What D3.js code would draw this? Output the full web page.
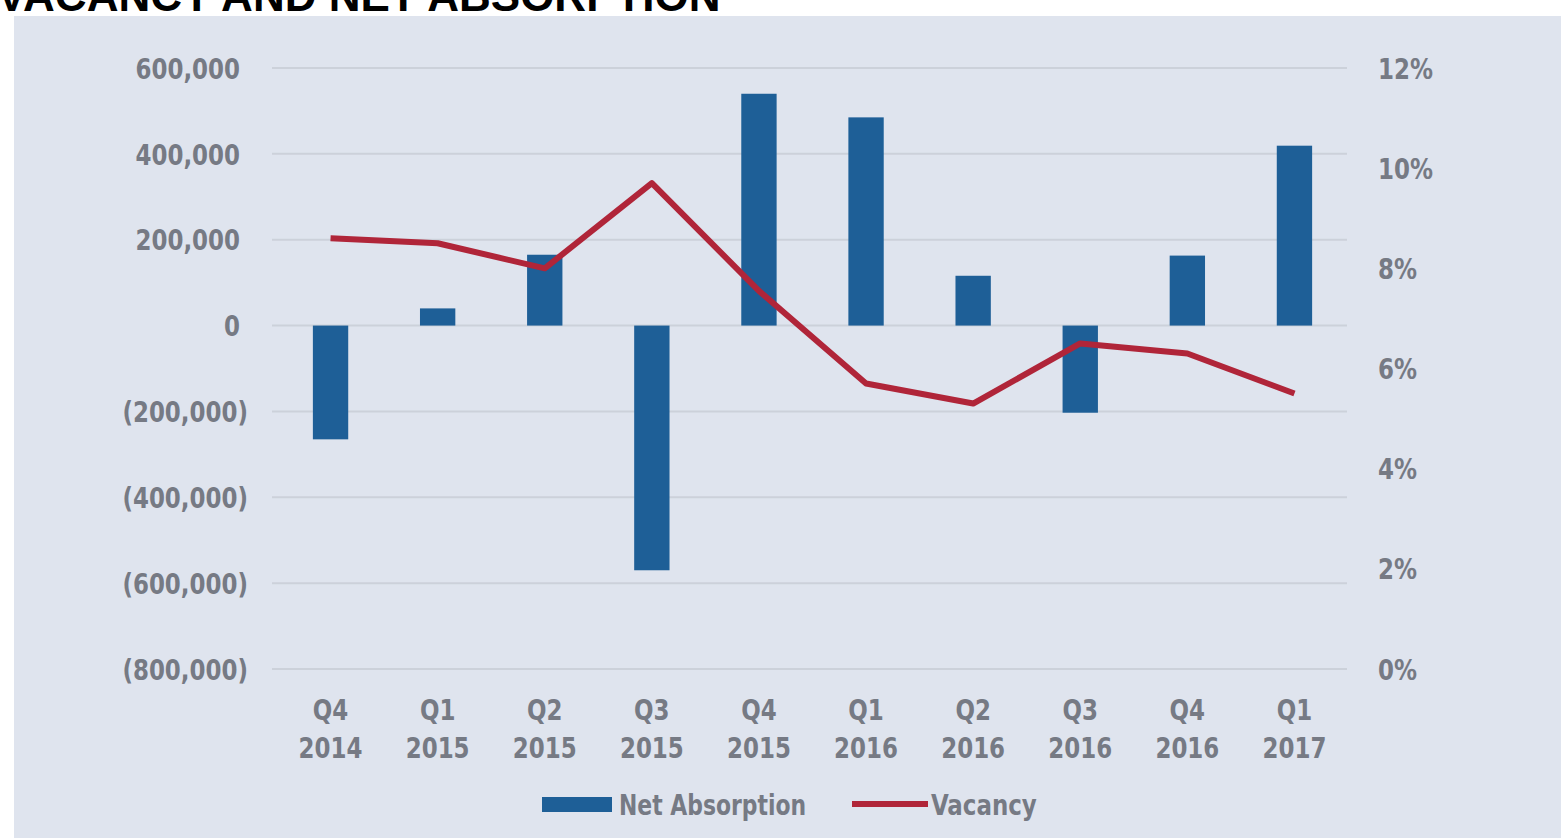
<!DOCTYPE html>
<meta charset="utf-8">
<style>
body { margin: 0; background: #fff; }
svg { display: block; }
.tick text { font-family: "Liberation Sans Narrow", "DejaVu Sans Condensed", sans-serif; font-weight: bold; fill: #767a84; }
</style>
<svg width="1561" height="838"></svg>
<script src="https://cdnjs.cloudflare.com/ajax/libs/d3/7.8.5/d3.min.js"></script>
<script>

var quarters = ["Q4", "Q1", "Q2", "Q3", "Q4", "Q1", "Q2", "Q3", "Q4", "Q1"];
var years = ["2014", "2015", "2015", "2015", "2015", "2016", "2016", "2016", "2016", "2017"];
var netAbsorption = [-265000, 40000, 165000, -570000, 540000, 485000, 116000, -203000, 163000, 419000];
var vacancy = [8.6, 8.5, 8.0, 9.7, 7.55, 5.7, 5.3, 6.5, 6.3, 5.5];
var leftTicks = [600000, 400000, 200000, 0, -200000, -400000, -600000, -800000];
var rightTicks = [0, 2, 4, 6, 8, 10, 12];

var svg = d3.select("svg");
var font = '"Liberation Sans Narrow", "DejaVu Sans Condensed", sans-serif';
var squeeze = "scale(0.88,1)";

// panel
svg.append("rect")
    .attr("x", 14).attr("y", 16)
    .attr("width", 1561 - 14).attr("height", 838 - 16)
    .attr("fill", "#dfe4ee");

// title, clipped at the top like the source
svg.append("text")
    .attr("x", -3).attr("y", 11)
    .attr("font-family", "Liberation Sans, Arial, sans-serif")
    .attr("font-weight", "bold")
    .attr("font-size", 44)
    .attr("fill", "#000")
    .text("VACANCY AND NET ABSORPTION");

var idx = d3.range(quarters.length);

var x = d3.scaleBand()
    .domain(idx)
    .range([277, 1348])
    .paddingInner(0.67)
    .paddingOuter(0.335);

var y = d3.scaleLinear()
    .domain([-800000, 600000])
    .range([669, 68]);

var y2 = d3.scaleLinear()
    .domain([0, 12])
    .range([669, 68]);

// gridlines
svg.append("g")
    .selectAll("line")
    .data(leftTicks)
  .enter().append("line")
    .attr("x1", 272).attr("x2", 1347)
    .attr("y1", function(d) { return y(d); })
    .attr("y2", function(d) { return y(d); })
    .attr("stroke", "#ccd1da")
    .attr("stroke-width", 2);

// left axis
var fmt = d3.format(",");
var gl = svg.append("g")
    .attr("transform", "translate(240,0)")
    .call(d3.axisLeft(y).tickValues(leftTicks).tickSize(0).tickPadding(0)
      .tickFormat(function(d) { return d < 0 ? "(" + fmt(-d) + ")" : fmt(d); }));
gl.select(".domain").remove();
gl.selectAll(".tick text")
    .attr("font-size", 29)
    .attr("x", function(d) { return d < 0 ? 9 : 0; })
    .attr("dy", "0.35em")
    .attr("transform", squeeze);

// right axis
var gr = svg.append("g")
    .attr("transform", "translate(1378,0)")
    .call(d3.axisRight(y2).tickValues(rightTicks).tickSize(0).tickPadding(0)
      .tickFormat(function(d) { return d + "%"; }));
gr.select(".domain").remove();
gr.selectAll(".tick text")
    .attr("font-size", 29)
    .attr("dy", "0.35em")
    .attr("transform", squeeze);

// bars
svg.append("g")
    .selectAll("rect")
    .data(idx)
  .enter().append("rect")
    .attr("x", function(i) { return x(i); })
    .attr("width", x.bandwidth())
    .attr("y", function(i) { return y(Math.max(0, netAbsorption[i])); })
    .attr("height", function(i) { return Math.abs(y(netAbsorption[i]) - y(0)); })
    .attr("fill", "#1e5f97");

// vacancy line
var line = d3.line()
    .x(function(i) { return x(i) + x.bandwidth() / 2; })
    .y(function(i) { return y2(vacancy[i]); });

svg.append("path")
    .datum(idx)
    .attr("d", line)
    .attr("fill", "none")
    .attr("stroke", "#b02539")
    .attr("stroke-width", 6)
    .attr("stroke-linejoin", "round");

// category labels
var gx = svg.append("g")
    .attr("transform", "translate(0,669)")
    .call(d3.axisBottom(x).tickSize(0).tickFormat(function() { return ""; }));
gx.select(".domain").remove();
gx.selectAll(".tick text").each(function(i) {
  var t = d3.select(this)
      .attr("font-size", 29)
      .attr("y", 0)
      .attr("dy", 0)
      .attr("transform", squeeze);
  t.append("tspan").attr("x", 0).attr("y", 51).text(quarters[i]);
  t.append("tspan").attr("x", 0).attr("y", 89).text(years[i]);
});

// legend
var lg = svg.append("g");
lg.append("rect")
    .attr("x", 542).attr("y", 797)
    .attr("width", 70).attr("height", 15)
    .attr("fill", "#1e5f97");
lg.append("text")
    .attr("transform", "translate(619,815) scale(0.84,1)")
    .attr("font-family", font).attr("font-weight", "bold")
    .attr("font-size", 29).attr("fill", "#767a84")
    .text("Net Absorption");
lg.append("line")
    .attr("x1", 852).attr("x2", 928)
    .attr("y1", 804).attr("y2", 804)
    .attr("stroke", "#b02539").attr("stroke-width", 6);
lg.append("text")
    .attr("transform", "translate(931,815) scale(0.88,1)")
    .attr("font-family", font).attr("font-weight", "bold")
    .attr("font-size", 29).attr("fill", "#767a84")
    .text("Vacancy");

</script>
